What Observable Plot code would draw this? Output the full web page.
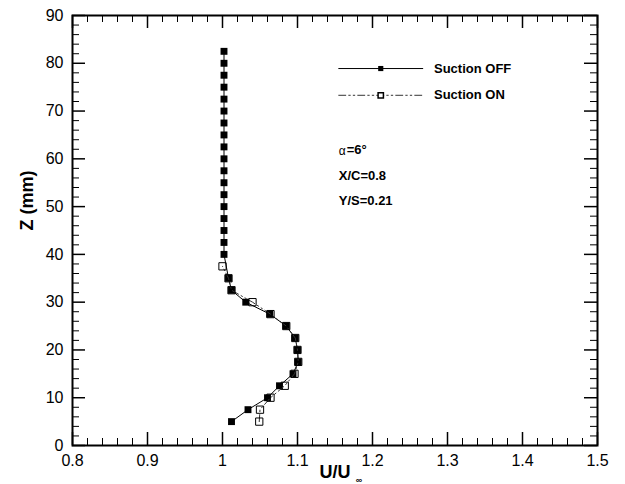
<!DOCTYPE html>
<html><head><meta charset="utf-8">
<script src="https://cdn.jsdelivr.net/npm/d3@7"></script>
<script src="https://cdn.jsdelivr.net/npm/@observablehq/plot@0.6"></script>
<style>body{margin:0;background:#fff;font-family:"Liberation Sans",Arial,sans-serif}</style>
</head><body><div id="chart"></div>
<script>
// Suction OFF profile (Z in mm, U/U∞)
const zOff = [5, 7.5, 10, 12.5, 15, 17.5, 20, 22.5, 25, 27.5, 30, 32.5, 35,
  40, 42.5, 45, 47.5, 50, 52.5, 55, 57.5, 60, 62.5, 65, 67.5, 70, 72.5, 75, 77.5, 80, 82.5];
const uOff = [1.012, 1.034, 1.060, 1.076, 1.094, 1.101, 1.100, 1.097, 1.085, 1.063, 1.031, 1.012, 1.008,
  1.002, 1.002, 1.002, 1.002, 1.002, 1.002, 1.002, 1.002, 1.002, 1.002, 1.002, 1.002, 1.002, 1.002, 1.002, 1.002, 1.002, 1.002];
// Suction ON profile
const zOn = [5, 7.5, 10, 12.5, 15, 17.5, 20, 22.5, 25, 27.5, 30, 32.5, 35, 37.5];
const uOn = [1.049, 1.050, 1.064, 1.083, 1.096, 1.101, 1.100, 1.097, 1.085, 1.064, 1.040, 1.012, 1.008, 1.000];

const xTicks = [0.8, 0.9, 1.0, 1.1, 1.2, 1.3, 1.4, 1.5];
const xTickLabels = ["0.8", "0.9", "1", "1.1", "1.2", "1.3", "1.4", "1.5"];
const yTicks = [0, 10, 20, 30, 40, 50, 60, 70, 80, 90];
const legendLabels = ["Suction OFF", "Suction ON"];
const notes = ["X/C=0.8", "Y/S=0.21"];
const alphaNote = ["α", "=6°"];

const off = zOff.map((z, i) => ({z, u: uOff[i]}));
const on = zOn.map((z, i) => ({z, u: uOn[i]}));

const W = 625, H = 484, mL = 72, mR = 28, mT = 15, mB = 39;
const fw = W - mL - mR, fh = H - mT - mB;
const xMinor = d3.range(0.8, 1.5001, 0.02).filter(v => Math.abs(v*10 - Math.round(v*10)) > 1e-6);
const yMinor = d3.range(0, 91, 2).filter(v => v % 10 !== 0);
const dashOn = "7,3,1.5,3,1.5,3";

// legend positions in data units
const legX1 = 1.155, legX2 = 1.267, legMid = 1.211, legText = 1.282;
const legY = [78.9, 73.3];
const noteY = [61.7, 56.5, 51.3];

const plot = Plot.plot({
  width: W, height: H,
  marginLeft: mL, marginRight: mR, marginTop: mT, marginBottom: mB,
  x: {domain: [0.8, 1.5]},
  y: {domain: [0, 90]},
  style: {fontFamily: '"Liberation Sans", Arial, sans-serif', color: "#000", background: "#fff"},
  marks: [
    // inward ticks
    Plot.tickY(yTicks, {y: d => d, insetRight: fw - 13, stroke: "#000", strokeWidth: 1.5}),
    Plot.tickY(yMinor, {y: d => d, insetRight: fw - 7, stroke: "#000", strokeWidth: 1}),
    Plot.tickY(yTicks, {y: d => d, insetLeft: fw - 13, stroke: "#000", strokeWidth: 1.5}),
    Plot.tickY(yMinor, {y: d => d, insetLeft: fw - 7, stroke: "#000", strokeWidth: 1}),
    Plot.tickX(xTicks, {x: d => d, insetTop: fh - 13, stroke: "#000", strokeWidth: 1.5}),
    Plot.tickX(xMinor, {x: d => d, insetTop: fh - 7, stroke: "#000", strokeWidth: 1}),
    Plot.tickX(xTicks, {x: d => d, insetBottom: fh - 13, stroke: "#000", strokeWidth: 1.5}),
    Plot.tickX(xMinor, {x: d => d, insetBottom: fh - 7, stroke: "#000", strokeWidth: 1}),
    Plot.frame({stroke: "#000", strokeWidth: 2}),
    Plot.axisX({ticks: xTicks, tickFormat: (d, i) => xTickLabels[i], tickSize: 0, tickPadding: 9, fontSize: 16, label: null}),
    Plot.axisY({ticks: yTicks, tickSize: 0, tickPadding: 9, fontSize: 16, label: null}),
    // data
    Plot.line(off, {x: "u", y: "z", stroke: "#000", strokeWidth: 1}),
    Plot.dot(off, {x: "u", y: "z", symbol: "square", r: 3.9, fill: "#000", stroke: "none"}),
    Plot.line(on, {x: "u", y: "z", stroke: "#333", strokeWidth: 1, strokeDasharray: dashOn}),
    Plot.dot(on, {x: "u", y: "z", symbol: "square", r: 4.1, fill: "none", stroke: "#000", strokeWidth: 1}),
    // legend
    Plot.line([[legX1, legY[0]], [legX2, legY[0]]], {stroke: "#000", strokeWidth: 1}),
    Plot.dot([[legMid, legY[0]]], {symbol: "square", r: 2.9, fill: "#000"}),
    Plot.line([[legX1, legY[1]], [legX2, legY[1]]], {stroke: "#333", strokeWidth: 1, strokeDasharray: dashOn}),
    Plot.dot([[legMid, legY[1]]], {symbol: "square", r: 3, fill: "#fff", stroke: "#000"}),
    Plot.text(legendLabels, {x: legText, y: (d, i) => legY[i], text: d => d, textAnchor: "start", fontSize: 13, fontWeight: "bold"}),
    // notes
    Plot.text([alphaNote[0]], {x: legX1, y: noteY[0], text: d => d, textAnchor: "start", fontSize: 12}),
    Plot.text([alphaNote[1]], {x: legX1, y: noteY[0], dx: 8, dy: -1, text: d => d, textAnchor: "start", fontSize: 13, fontWeight: "bold"}),
    Plot.text(notes, {x: legX1, y: (d, i) => noteY[i + 1], text: d => d, textAnchor: "start", fontSize: 13, fontWeight: "bold"}),
    // axis titles
    Plot.text(["Z (mm)"], {frameAnchor: "left", dx: -45, rotate: -90, text: d => d, fontSize: 18, fontWeight: "bold"}),
    Plot.text(["U/U"], {frameAnchor: "bottom", dy: 32, text: d => d, fontSize: 18, fontWeight: "bold"}),
    Plot.text(["∞"], {frameAnchor: "bottom", dy: 37, dx: 24, text: d => d, fontSize: 9, fontWeight: "bold"})
  ]
});
document.getElementById("chart").appendChild(plot);
</script>
</body></html>
